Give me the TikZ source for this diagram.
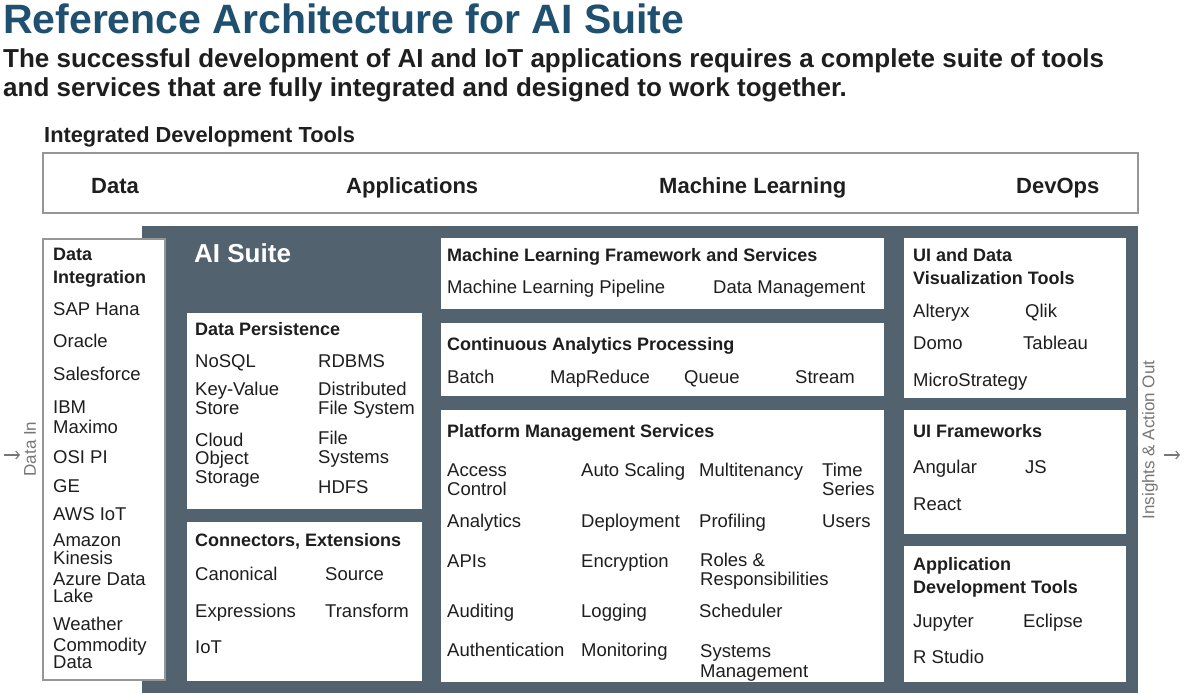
\documentclass[tikz,border=0pt]{standalone}
\usepackage{fontspec}
\setmainfont{Liberation Sans}
\usetikzlibrary{arrows.meta}
\definecolor{titleblue}{RGB}{32,80,112}
\definecolor{ink}{RGB}{30,30,30}
\definecolor{suite}{RGB}{82,98,110}
\definecolor{edge}{RGB}{150,150,150}
\definecolor{side}{RGB}{118,118,118}
\begin{document}
\begin{tikzpicture}[x=1pt,y=-1pt,
  panel/.style={anchor=north west, inner sep=0pt, outer sep=0pt, fill=white},
  gpanel/.style={panel, draw=edge, line width=1.5pt},
  txt/.style={anchor=base west, inner sep=0pt, text=ink, align=left, font=\fontsize{18.5}{18.5}\selectfont},
  hd/.style={txt, font=\bfseries\fontsize{18}{22.5}\selectfont},
  sidelbl/.style={inner sep=0pt, text=side, font=\fontsize{17}{17}\selectfont},
  sidearrow/.style={draw=side, line width=1.1pt, -{Straight Barb[length=3.5pt,width=8pt]}}]
\useasboundingbox (0,0) rectangle (1184,694);

% title
\node[anchor=base west, inner sep=0pt, text=titleblue, font=\bfseries\fontsize{41}{41}\selectfont] (title) at (3,33) {Reference Architecture for AI Suite};
\node[anchor=base west, inner sep=0pt, text=ink, align=left, font=\bfseries\fontsize{26}{29}\selectfont] (sub) at (3,96) {The successful development of AI and IoT applications requires a complete suite of tools\\and services that are fully integrated and designed to work together.};

% integrated development tools
\node[anchor=base west, inner sep=0pt, text=ink, font=\bfseries\fontsize{21.8}{22}\selectfont] (idt) at (44,142) {Integrated Development Tools};
\node[gpanel, minimum width=1095pt, minimum height=60pt] (topbox) at (43,153) {};
\begin{scope}[every node/.style={anchor=base west, inner sep=0pt, text=ink, font=\bfseries\fontsize{22}{22}\selectfont}]
\node (tData) at (91,193) {Data};
\node (tApp) at (346,193) {Applications};
\node (tML) at (659,193) {Machine Learning};
\node (tDev) at (1016,193) {DevOps};
\end{scope}

% AI suite background
\node[panel, fill=suite, minimum width=996pt, minimum height=467pt] (suitebg) at (142,226) {};
\node[anchor=base west, inner sep=0pt, text=white, font=\bfseries\fontsize{26}{26}\selectfont] (suitelbl) at (194,262) {AI Suite};

% panels
\node[gpanel, minimum width=122pt, minimum height=441pt] (di) at (43,239) {};
\node[panel, minimum width=235pt, minimum height=196pt] (dp) at (187,313) {};
\node[panel, minimum width=235pt, minimum height=159pt] (ce) at (187,522) {};
\node[panel, minimum width=443pt, minimum height=71pt] (ml) at (441,238) {};
\node[panel, minimum width=443pt, minimum height=73pt] (ca) at (441,323) {};
\node[panel, minimum width=443pt, minimum height=272pt] (pm) at (441,410) {};
\node[panel, minimum width=222pt, minimum height=160pt] (uv) at (904,238) {};
\node[panel, minimum width=222pt, minimum height=124pt] (uf) at (904,410) {};
\node[panel, minimum width=222pt, minimum height=136pt] (ad) at (904,546) {};

% data integration (multi-line nodes are placed by the baseline of their last line)
\node[hd] (diH) at (53,283) {Data\\Integration};
\node[txt] (di1) at (53,315) {SAP Hana};
\node[txt] (di2) at (53,347) {Oracle};
\node[txt] (di3) at (53,380) {Salesforce};
\node[txt] (di4) at (53,433) {IBM\\[1.5pt]Maximo};
\node[txt] (di5) at (53,463) {OSI PI};
\node[txt] (di6) at (53,492) {GE};
\node[txt] (di7) at (53,520) {AWS IoT};
\node[txt] (di8) at (53,564) {Amazon\\[-1pt]Kinesis};
\node[txt] (di9) at (53,602) {Azure Data\\[-1.5pt]Lake};
\node[txt] (di10) at (53,630) {Weather};
\node[txt] (di11) at (53,668.5) {Commodity\\[-1pt]Data};

% data persistence
\node[hd] (dpH) at (195,335) {Data Persistence};
\node[txt] (dp1) at (195,367) {NoSQL};
\node[txt] (dp2) at (318,367) {RDBMS};
\node[txt] (dp3) at (195,414) {Key-Value\\Store};
\node[txt] (dp4) at (318,414) {Distributed\\File System};
\node[txt] (dp5) at (195,483) {Cloud\\Object\\Storage};
\node[txt] (dp6) at (318,463) {File\\Systems};
\node[txt] (dp7) at (318,493) {HDFS};

% connectors
\node[hd] (ceH) at (195,546) {Connectors, Extensions};
\node[txt] (ce1) at (195,580) {Canonical};
\node[txt] (ce2) at (325,580) {Source};
\node[txt] (ce3) at (195,617) {Expressions};
\node[txt] (ce4) at (325,617) {Transform};
\node[txt] (ce5) at (195,653) {IoT};

% machine learning framework
\node[hd] (mlH) at (447,261) {Machine Learning Framework and Services};
\node[txt] (ml1) at (447,293) {Machine Learning Pipeline};
\node[txt] (ml2) at (713,293) {Data Management};

% continuous analytics
\node[hd] (caH) at (447,350) {Continuous Analytics Processing};
\node[txt] (ca1) at (447,383) {Batch};
\node[txt] (ca2) at (550,383) {MapReduce};
\node[txt] (ca3) at (684,383) {Queue};
\node[txt] (ca4) at (795,383) {Stream};

% platform management
\node[hd] (pmH) at (447,437) {Platform Management Services};
\node[txt] (pm1) at (447,495) {Access\\Control};
\node[txt] (pm2) at (581,476) {Auto Scaling};
\node[txt] (pm3) at (699,476) {Multitenancy};
\node[txt] (pm4) at (822,495) {Time\\Series};
\node[txt] (pm5) at (447,527) {Analytics};
\node[txt] (pm6) at (581,527) {Deployment};
\node[txt] (pm7) at (699,527) {Profiling};
\node[txt] (pm8) at (822,527) {Users};
\node[txt] (pm9) at (447,567) {APIs};
\node[txt] (pm10) at (581,567) {Encryption};
\node[txt] (pm11) at (700,585) {Roles \&\\Responsibilities};
\node[txt] (pm12) at (447,617) {Auditing};
\node[txt] (pm13) at (581,617) {Logging};
\node[txt] (pm14) at (699,617) {Scheduler};
\node[txt] (pm15) at (447,656) {Authentication};
\node[txt] (pm16) at (581,656) {Monitoring};
\node[txt] (pm17) at (700,677) {Systems\\[1.5pt]Management};

% right column
\node[hd] (uvH) at (913,284) {UI and Data\\Visualization Tools};
\node[txt] (uv1) at (913,317) {Alteryx};
\node[txt] (uv2) at (1025,317) {Qlik};
\node[txt] (uv3) at (913,349) {Domo};
\node[txt] (uv4) at (1023,349) {Tableau};
\node[txt] (uv5) at (913,386) {MicroStrategy};

\node[hd] (ufH) at (913,437) {UI Frameworks};
\node[txt] (uf1) at (913,473) {Angular};
\node[txt] (uf2) at (1025,473) {JS};
\node[txt] (uf3) at (913,510) {React};

\node[hd] (adH) at (913,593) {Application\\Development Tools};
\node[txt] (ad1) at (913,627) {Jupyter};
\node[txt] (ad2) at (1023,627) {Eclipse};
\node[txt] (ad3) at (913,663) {R Studio};

% side labels
\node[sidelbl, rotate=90] (datain) at (30,449) {Data In};
\coordinate (inA) at (4,455);
\coordinate (inB) at (20,455);
\draw[sidearrow] (inA) -- (inB);
\node[sidelbl, rotate=90] (insout) at (1150,440) {Insights \& Action Out};
\coordinate (outA) at (1164,455);
\coordinate (outB) at (1180,455);
\draw[sidearrow] (outA) -- (outB);
\end{tikzpicture}
\end{document}
